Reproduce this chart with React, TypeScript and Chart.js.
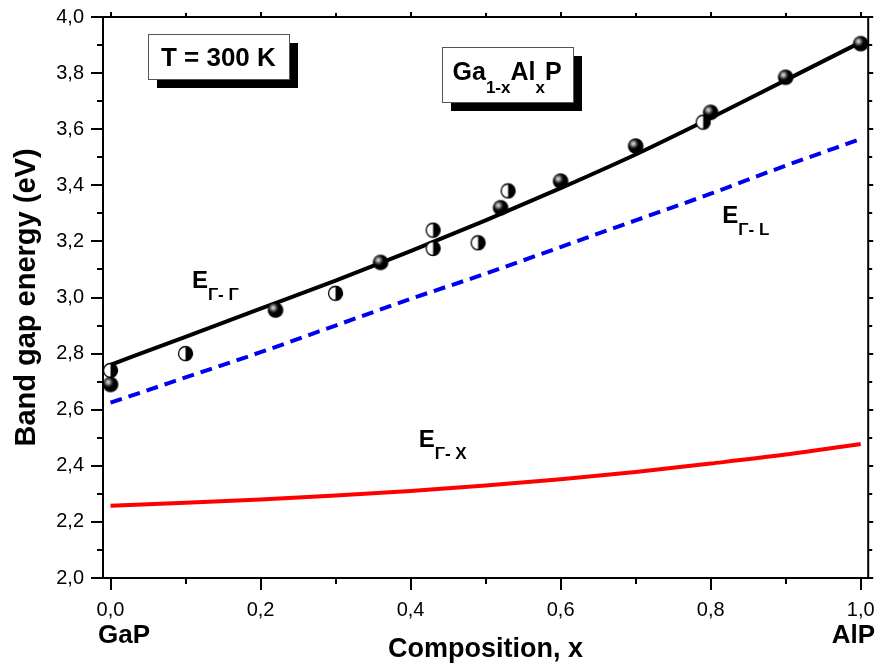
import React, { useEffect, useRef } from 'react';
import { Chart, registerables } from 'chart.js';

Chart.register(...registerables);

// ---------- data ----------
const compositionX = [0, 0.1, 0.2, 0.3, 0.4, 0.5, 0.6, 0.7, 0.8, 0.9, 1.0];
const gammaGamma = [2.76, 2.86, 2.96, 3.06, 3.165, 3.275, 3.39, 3.51, 3.64, 3.775, 3.91];
const gammaL = [2.625, 2.715, 2.805, 2.9, 2.995, 3.085, 3.18, 3.275, 3.37, 3.47, 3.565];
const gammaX = [2.258, 2.268, 2.28, 2.294, 2.31, 2.33, 2.352, 2.378, 2.408, 2.44, 2.478];

const sphereX = [0, 0.22, 0.36, 0.52, 0.6, 0.7, 0.8, 0.9, 1.0];
const sphereY = [2.69, 2.955, 3.125, 3.32, 3.415, 3.54, 3.66, 3.785, 3.905];

const halfX = [0, 0.1, 0.3, 0.43, 0.43, 0.49, 0.53, 0.79];
const halfY = [2.74, 2.8, 3.015, 3.24, 3.175, 3.195, 3.38, 3.625];

const xTicks = [0, 0.2, 0.4, 0.6, 0.8, 1.0];
const xMinorTicks = [0.1, 0.3, 0.5, 0.7, 0.9];
const yTicks = [2.0, 2.2, 2.4, 2.6, 2.8, 3.0, 3.2, 3.4, 3.6, 3.8, 4.0];
const yMinorTicks = [2.1, 2.3, 2.5, 2.7, 2.9, 3.1, 3.3, 3.5, 3.7, 3.9];

const xTitle = 'Composition, x';
const yTitle = 'Band gap energy (eV)';
const leftEndLabel = 'GaP';
const rightEndLabel = 'AlP';
const tempLabel = 'T = 300 K';
const alloyLabel = [
  { t: 'Ga' }, { t: '1-x', sub: true }, { t: 'Al' }, { t: 'x', sub: true }, { t: 'P' },
];
const curveLabels = [
  { main: 'E', sub: 'Γ- Γ', x: 0.1085, y: 3.034 },
  { main: 'E', sub: 'Γ- L', x: 0.8155, y: 3.266 },
  { main: 'E', sub: 'Γ- X', x: 0.4108, y: 2.467 },
];

const FONT = '"Liberation Sans", Arial, sans-serif';

function fmt(v: number) {
  return Number(v).toFixed(1).replace('.', ',');
}

function makeSphere(r: number) {
  const size = Math.ceil(r * 2 + 2);
  const c = document.createElement('canvas');
  c.width = size; c.height = size;
  const g = c.getContext('2d')!;
  const cx = size / 2, cy = size / 2;
  g.beginPath(); g.arc(cx, cy, r, 0, Math.PI * 2);
  g.fillStyle = '#000'; g.fill();
  const grad = g.createRadialGradient(cx - r * 0.3, cy - r * 0.3, 0, cx - r * 0.3, cy - r * 0.3, r * 0.8);
  grad.addColorStop(0, 'rgba(235,235,235,1)');
  grad.addColorStop(0.4, 'rgba(140,140,140,0.9)');
  grad.addColorStop(1, 'rgba(0,0,0,0)');
  g.beginPath(); g.arc(cx, cy, r, 0, Math.PI * 2);
  g.fillStyle = grad; g.fill();
  return c;
}

function makeHalf(r: number) {
  const size = Math.ceil(r * 2 + 3);
  const c = document.createElement('canvas');
  c.width = size; c.height = size;
  const g = c.getContext('2d')!;
  const cx = size / 2, cy = size / 2;
  g.beginPath(); g.arc(cx, cy, r, 0, Math.PI * 2);
  g.fillStyle = '#fff'; g.fill();
  g.beginPath(); g.moveTo(cx, cy - r); g.arc(cx, cy, r, -Math.PI / 2, Math.PI / 2); g.closePath();
  g.fillStyle = '#000'; g.fill();
  g.beginPath(); g.arc(cx, cy, r, 0, Math.PI * 2);
  g.lineWidth = 1.3; g.strokeStyle = '#000'; g.stroke();
  return c;
}

type Part = { t: string; sub?: boolean };

function richWidth(ctx: CanvasRenderingContext2D, parts: Part[], mainF: string, subF: string) {
  let w = 0;
  for (const p of parts) { ctx.font = p.sub ? subF : mainF; w += ctx.measureText(p.t).width; }
  return w;
}

function drawRich(ctx: CanvasRenderingContext2D, parts: Part[], x: number, y: number, mainF: string, subF: string, subDy: number) {
  let cx = x;
  ctx.textBaseline = 'alphabetic';
  ctx.textAlign = 'left';
  for (const p of parts) {
    ctx.font = p.sub ? subF : mainF;
    ctx.fillText(p.t, cx, p.sub ? y + subDy : y);
    cx += ctx.measureText(p.t).width;
  }
}

function drawShadowBox(ctx: CanvasRenderingContext2D, cx: number, cy: number, w: number, h: number) {
  const l = Math.round(cx - w / 2), t = Math.round(cy - h / 2);
  ctx.fillStyle = '#000';
  ctx.fillRect(l + 9, t + 9, w, h);
  ctx.fillStyle = '#fff';
  ctx.fillRect(l, t, w, h);
  ctx.strokeStyle = '#555';
  ctx.lineWidth = 1;
  ctx.strokeRect(l + 0.5, t + 0.5, w, h);
}

const decorPlugin = {
  id: 'decor',
  afterDraw(chart: any) {
    const { ctx, chartArea: a, scales } = chart;
    const xs = scales.x, ys = scales.y;
    ctx.save();
    // frame
    ctx.strokeStyle = '#000';
    ctx.lineWidth = 2;
    ctx.strokeRect(a.left, a.top, a.right - a.left, a.bottom - a.top);
    // ticks
    ctx.lineWidth = 2;
    ctx.beginPath();
    const tk = (vals: number[], len: number, lenMirror: number) => {
      for (const v of vals) {
        const px = Math.round(xs.getPixelForValue(v));
        ctx.moveTo(px, a.bottom); ctx.lineTo(px, a.bottom + len);
        ctx.moveTo(px, a.top); ctx.lineTo(px, a.top - lenMirror);
      }
    };
    const tky = (vals: number[], len: number, lenMirror: number) => {
      for (const v of vals) {
        const py = Math.round(ys.getPixelForValue(v));
        ctx.moveTo(a.left, py); ctx.lineTo(a.left - len, py);
        ctx.moveTo(a.right, py); ctx.lineTo(a.right + lenMirror, py);
      }
    };
    tk(xTicks, 12, 5);
    tk(xMinorTicks, 6, 4);
    tky(yTicks, 12, 5);
    tky(yMinorTicks, 6, 4);
    ctx.stroke();

    ctx.fillStyle = '#000';
    // axis titles
    ctx.font = `bold 27px ${FONT}`;
    ctx.textAlign = 'center';
    ctx.textBaseline = 'alphabetic';
    ctx.fillText(xTitle, (xs.getPixelForValue(0) + xs.getPixelForValue(1)) / 2, a.bottom + 79);
    ctx.font = `bold 26px ${FONT}`;
    ctx.textAlign = 'left';
    ctx.fillText(leftEndLabel, a.left - 5, a.bottom + 65);
    ctx.textAlign = 'right';
    ctx.fillText(rightEndLabel, chart.width - 2, a.bottom + 65);

    ctx.save();
    ctx.translate(27, (a.top + a.bottom) / 2);
    ctx.rotate(-Math.PI / 2);
    ctx.font = `bold 29px ${FONT}`;
    ctx.textAlign = 'center';
    ctx.textBaseline = 'middle';
    ctx.fillText(yTitle, 0, 0);
    ctx.restore();

    // temperature box
    {
      const f = `bold 26px ${FONT}`;
      ctx.font = f;
      const w = ctx.measureText(tempLabel).width;
      const cx = xs.getPixelForValue(0.1438), cy = ys.getPixelForValue(3.859);
      drawShadowBox(ctx, cx, cy, Math.round(w + 26), 45);
      ctx.fillStyle = '#000';
      ctx.font = f;
      ctx.textAlign = 'center';
      ctx.textBaseline = 'alphabetic';
      ctx.fillText(tempLabel, cx, cy + 9);
    }
    // alloy box
    {
      const mf = `bold 25px ${FONT}`, sf = `bold 17px ${FONT}`;
      const w = richWidth(ctx, alloyLabel, mf, sf);
      const cx = xs.getPixelForValue(0.5286), cy = ys.getPixelForValue(3.795);
      drawShadowBox(ctx, cx, cy, Math.round(w + 22), 55);
      ctx.fillStyle = '#000';
      drawRich(ctx, alloyLabel, cx - w / 2, cy + 5, mf, sf, 13);
    }
    // curve labels
    for (const lb of curveLabels) {
      const px = xs.getPixelForValue(lb.x), py = ys.getPixelForValue(lb.y);
      drawRich(ctx, [{ t: lb.main }, { t: lb.sub, sub: true }], px, py, `bold 24px ${FONT}`, `bold 17px ${FONT}`, 12);
    }
    ctx.restore();
  },
};

export default function App() {
  const ref = useRef<HTMLCanvasElement | null>(null);
  useEffect(() => {
    if (!ref.current) return;
    const sphere = makeSphere(7.8);
    const half = makeHalf(7);
    const line = (ys: number[]) => compositionX.map((x, i) => ({ x, y: ys[i] }));
    const chart = new Chart(ref.current, {
      type: 'line',
      data: {
        datasets: [
          {
            label: 'sphere', type: 'scatter' as any, data: sphereX.map((x, i) => ({ x, y: sphereY[i] })),
            pointStyle: sphere as any, pointRadius: 7.8, showLine: false, order: 0, clip: false as any,
          },
          {
            label: 'half', type: 'scatter' as any, data: halfX.map((x, i) => ({ x, y: halfY[i] })),
            pointStyle: half as any, pointRadius: 7, showLine: false, order: 1, clip: false as any,
          },
          {
            label: 'G-G', data: line(gammaGamma), borderColor: '#000', borderWidth: 4, pointRadius: 0,
            cubicInterpolationMode: 'monotone', fill: false, order: 2,
          },
          {
            label: 'G-L', data: line(gammaL), borderColor: '#0000f0', borderWidth: 4, borderDash: [12, 7],
            pointRadius: 0, cubicInterpolationMode: 'monotone', fill: false, order: 3,
          },
          {
            label: 'G-X', data: line(gammaX), borderColor: '#ff0000', borderWidth: 4, pointRadius: 0,
            cubicInterpolationMode: 'monotone', fill: false, order: 4,
          },
        ],
      },
      options: {
        animation: false,
        responsive: false,
        devicePixelRatio: 1,
        layout: { padding: { top: 17, right: 8, left: 0, bottom: 0 } },
        plugins: { legend: { display: false }, tooltip: { enabled: false } },
        scales: {
          x: {
            type: 'linear', min: -0.01, max: 1.01,
            afterBuildTicks: (s: any) => { s.ticks = xTicks.map((v) => ({ value: v })); },
            afterFit: (s: any) => { s.height = 90; s.paddingLeft = 0; s.paddingRight = 0; },
            grid: { display: false, drawTicks: false },
            border: { display: false },
            ticks: {
              padding: 20, color: '#000', font: { family: FONT, size: 20 },
              autoSkip: false, maxRotation: 0, callback: (v: any) => fmt(v),
            },
          },
          y: {
            type: 'linear', min: 2.0, max: 4.0,
            afterBuildTicks: (s: any) => { s.ticks = yTicks.map((v) => ({ value: v })); },
            afterFit: (s: any) => { s.width = 103; s.paddingTop = 0; s.paddingBottom = 0; },
            grid: { display: false, drawTicks: false },
            border: { display: false },
            ticks: {
              padding: 19, color: '#000', font: { family: FONT, size: 20 },
              autoSkip: false, callback: (v: any) => fmt(v),
            },
          },
        },
      },
      plugins: [decorPlugin],
    });
    return () => chart.destroy();
  }, []);
  return (
    <div style={{ position: 'fixed', left: 0, top: 0, width: 877, height: 668, background: '#fff' }}>
      <canvas ref={ref} width={877} height={668} />
    </div>
  );
}
